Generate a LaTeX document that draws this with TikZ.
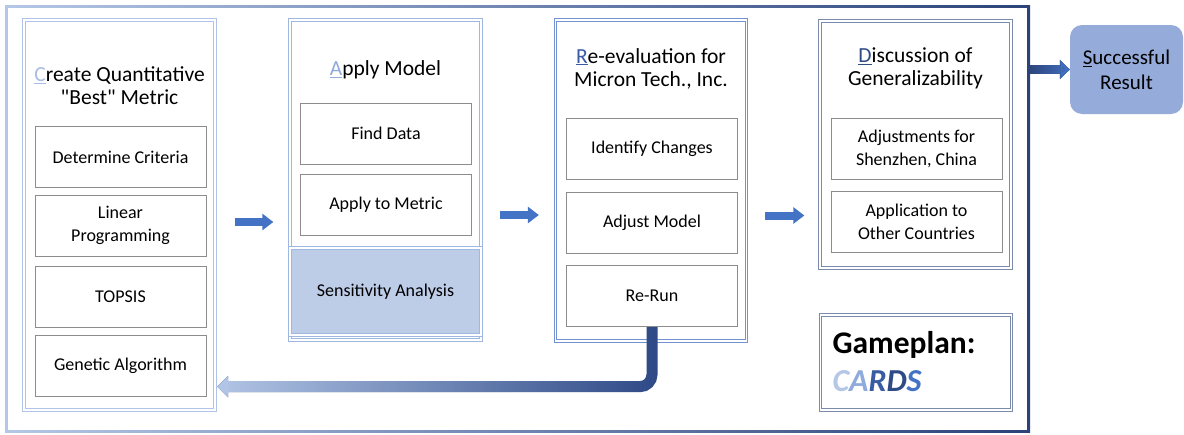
\documentclass[tikz,border=0pt]{standalone}
\usepackage{fontspec}
\setmainfont{Carlito}
\usetikzlibrary{arrows.meta,fadings}

\definecolor{framelight}{HTML}{B4C7E7}
\definecolor{framedark}{HTML}{2B4379}
\definecolor{cOneline}{HTML}{AFC4E8}
\definecolor{cTwoline}{HTML}{9FB8E2}
\definecolor{cThreeline}{HTML}{7392D0}
\definecolor{cFourline}{HTML}{7A8BAB}
\definecolor{boxgray}{HTML}{8C8C8C}
\definecolor{sensfill}{HTML}{BDCCE7}
\definecolor{succfill}{HTML}{95ABD9}
\definecolor{flowblue}{HTML}{4472C4}
\definecolor{letterC}{HTML}{A9BEE4}
\definecolor{letterA}{HTML}{8FAADC}
\definecolor{letterR}{HTML}{3A5CA3}
\definecolor{letterD}{HTML}{2E4A87}

\newcommand{\firstletter}[2]{\textcolor{#1}{\underline{#2}}}
\newcommand{\boxfont}{\fontsize{18}{23}\selectfont}

\begin{document}
\begin{tikzpicture}[x=1pt,y=-1pt]

\tikzset{stage/.style = {draw=#1, double=white, double distance=1.3pt, line width=1.3pt, minimum width=191pt}}
\tikzset{title/.style = {align=center, font=\fontsize{21.5}{23}\selectfont}}
\tikzset{task/.style = {draw=boxgray, line width=1pt, minimum width=171pt, minimum height=61pt, align=center, font=\boxfont}}
\tikzset{flow/.style = {draw=flowblue, line width=8pt, -{Triangle[width=16pt,length=11pt]}}}
\tikzset{loopback/.style = {line width=11pt, rounded corners=12pt, shorten >=1.5pt, -{Triangle[width=21pt,length=11pt]}}}

\useasboundingbox (0,0) rectangle (1184,434);

% frame
\node[left color=framelight, right color=framedark, minimum width=1025pt, minimum height=427pt, inner sep=0pt] (frame) at (517.5,218.5) {};
\node[fill=white, minimum width=1019pt, minimum height=422pt, inner sep=0pt] (inside) at (frame) {};

% columns
\node[stage=cOneline, minimum height=390pt] (c1) at (119.5,215) {};
\node[stage=cTwoline, minimum height=320pt] (c2) at (385.5,180) {};
\node[stage=cTwoline, fill=sensfill, minimum height=87pt, font=\boxfont] (sens) at (385.5,291.5) {Sensitivity Analysis};
\node[stage=cThreeline, minimum height=321pt] (c3) at (651,180.5) {};
\node[stage=cFourline, minimum height=247pt] (c4) at (915.5,144.5) {};
\node[stage=cFourline, minimum height=95pt] (game) at (916,362.5) {};

% titles
\node[title] (t1) at (119.5,85.5) {\firstletter{letterC}{C}reate Quantitative\\\textquotedbl Best\textquotedbl{} Metric};
\node[title] (t2) at (385.5,70) {\firstletter{letterA}{A}pply Model};
\node[title] (t3) at (651,68.5) {\firstletter{letterR}{R}e-evaluation for\\Micron Tech., Inc.};
\node[title] (t4) at (915.5,68.5) {\firstletter{letterD}{D}iscussion of\\Generalizability};

% boxes
\node[task] (b11) at (120.5,157) {Determine Criteria};
\node[task] (b12) at (120.5,225.5) {Linear\\Programming};
\node[task] (b13) at (120.5,296.5) {TOPSIS};
\node[task] (b14) at (120.5,365.5) {Genetic Algorithm};
\node[task] (b21) at (386,133.5) {Find Data};
\node[task] (b22) at (386,205) {Apply to Metric};
\node[task] (b31) at (652,148.5) {Identify Changes};
\node[task] (b32) at (652,223) {Adjust Model};
\node[task] (b33) at (652,296) {Re-Run};
\node[task] (b41) at (916.5,148.5) {Adjustments for\\Shenzhen, China};
\node[task] (b42) at (916.5,221.5) {Application to\\Other Countries};

% gameplan
\node[anchor=west, font=\bfseries\fontsize{31.5}{32}\selectfont] (gp) at (829,345) {Gameplan:};
\node[anchor=west, font=\bfseries\itshape\fontsize{32}{32}\selectfont] (cards) at (829,381)
  {\textcolor{framelight}{C}\textcolor{letterA}{A}\textcolor{letterR}{R}\textcolor{letterD}{D}\textcolor{flowblue}{S}};

% result
\node[fill=succfill, rounded corners=12pt, minimum width=113pt, minimum height=89pt, align=center, font=\fontsize{21}{25}\selectfont] (succ) at (1126.5,69.5) {\underline{S}uccessful\\Result};

% arrows
\coordinate (r1) at ([yshift=-7pt]c1.east);
\coordinate (r2) at ([yshift=-35pt]c2.east);
\coordinate (r3) at ([yshift=-35pt]c3.east);
\draw[flow, shorten <=19pt, shorten >=16pt] (r1) -- (r1 -| c2.west);
\draw[flow, shorten <=18pt, shorten >=16pt] (r2) -- (r2 -| c3.west);
\draw[flow, shorten <=18pt, shorten >=15pt] (r3) -- (r3 -| c4.west);
\draw[flow, draw=framedark, line width=9pt, -{Triangle[width=19pt,length=10pt]}] (succ.west -| frame.east) -- (succ.west);
\draw[flow, line width=9pt, -{Triangle[width=19pt,length=10pt]}, path fading=west] (succ.west -| frame.east) -- (succ.west);

% back to the start
\draw[loopback, draw=letterD] (b33.south) |- ([yshift=24pt]c1.south east);
\draw[loopback, draw=framelight, path fading=east] (b33.south) |- ([yshift=24pt]c1.south east);

\end{tikzpicture}
\end{document}
